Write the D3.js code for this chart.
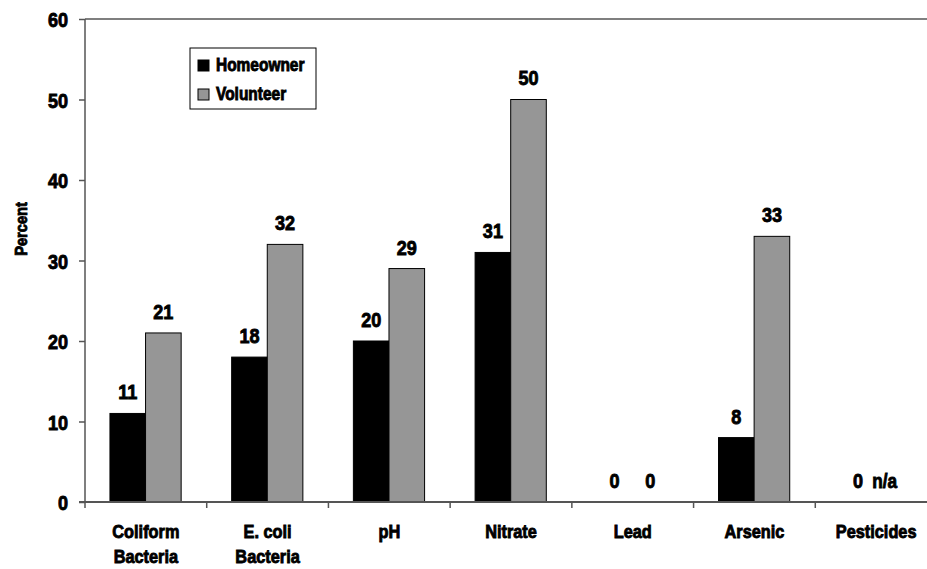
<!DOCTYPE html>
<html>
<head>
<meta charset="utf-8">
<script src="https://cdn.jsdelivr.net/npm/d3@7"></script>
<style>
  html, body { margin: 0; padding: 0; background: #fff; }
  svg text { font-family: "Liberation Sans", Arial, sans-serif; font-weight: bold; fill: #000; stroke: #000; stroke-width: 0.9px; }
</style>
</head>
<body>
<svg id="chart" width="927" height="569"></svg>
<script>
const categories = [["Coliform", "Bacteria"], ["E. coli", "Bacteria"], ["pH"], ["Nitrate"], ["Lead"], ["Arsenic"], ["Pesticides"]];
const seriesNames = ["Homeowner", "Volunteer"];
const homeowner = [11, 18, 20, 31, 0, 8, 0];
const volunteer = [21, 32, 29, 50, 0, 33, null];
const volunteerMissingLabel = "n/a";
const yTicks = [0, 10, 20, 30, 40, 50, 60];
const yLabel = "Percent";
const colors = ["#000000", "#969696"];

const svg = d3.select("#chart");
const margin = { left: 85, top: 19, bottom: 502 };
const plotRight = 937;
const SX = 0.86; // horizontal condensing of the bold font

function condense(sel) {
  sel.each(function () {
    const t = d3.select(this);
    const x = +(t.attr("x") || 0);
    t.attr("x", x / SX);
    const tr = t.attr("transform") || "";
    t.attr("transform", (tr + ` scale(${SX},1)`).trim());
    t.selectAll("tspan").each(function () {
      const ts = d3.select(this);
      if (ts.attr("x") !== null) ts.attr("x", +ts.attr("x") / SX);
    });
  });
}

const catKeys = categories.map((c, i) => i);
const x0 = d3.scaleBand().domain(catKeys).range([margin.left, plotRight]).padding(0);
const bw = x0.bandwidth();
const x1 = d3.scaleBand().domain(seriesNames).range([bw * 0.205, bw * 0.79]).padding(0);
const y = d3.scaleLinear().domain([0, 60]).range([margin.bottom, margin.top]);

// top border line
svg.append("line")
  .attr("x1", margin.left).attr("x2", 927)
  .attr("y1", y(60)).attr("y2", y(60))
  .attr("stroke", "#555").attr("stroke-width", 1.5);

// bars
const data = catKeys.map(i => ({ i, vals: [homeowner[i], volunteer[i]] }));
const groups = svg.append("g").selectAll("g").data(data).join("g")
  .attr("transform", d => `translate(${x0(d.i)},0)`);

groups.selectAll("rect")
  .data(d => d.vals.map((v, k) => ({ v, k })).filter(e => e.v !== null && e.v > 0))
  .join("rect")
  .attr("x", e => x1(seriesNames[e.k]))
  .attr("width", x1.bandwidth())
  .attr("y", e => y(e.v))
  .attr("height", e => y(0) - y(e.v))
  .attr("fill", e => colors[e.k])
  .attr("stroke", "#000").attr("stroke-width", 1);

// value labels
const vl = groups.selectAll("text.val")
  .data(d => d.vals.map((v, k) => ({ v, k })))
  .join("text").attr("class", "val")
  .attr("x", e => x1(seriesNames[e.k]) + x1.bandwidth() / 2 - (e.v === null ? 9 : 0))
  .attr("y", e => y(e.v === null ? 0 : e.v) - 14)
  .attr("text-anchor", "middle")
  .style("font-size", e => e.v === null ? "20px" : "21px")
  .text(e => e.v === null ? volunteerMissingLabel : e.v);
condense(vl);

// y axis
const yAxis = d3.axisLeft(y).tickValues(yTicks).tickSize(6).tickPadding(11);
const gy = svg.append("g").attr("transform", `translate(${margin.left},0)`).call(yAxis);
gy.select(".domain").remove();
gy.selectAll(".tick line").attr("stroke", "#555").attr("stroke-width", 1.5);
gy.selectAll(".tick text").style("font-size", "21px").attr("dy", "0.36em");
gy.attr("font-family", null).attr("font-size", null);
condense(gy.selectAll(".tick text"));
svg.append("line")
  .attr("x1", margin.left).attr("x2", margin.left)
  .attr("y1", y(60)).attr("y2", y(0) + 6)
  .attr("stroke", "#555").attr("stroke-width", 1.5);

// x axis
svg.append("line")
  .attr("x1", margin.left - 6).attr("x2", 927)
  .attr("y1", y(0)).attr("y2", y(0))
  .attr("stroke", "#555").attr("stroke-width", 2);
svg.append("g").selectAll("line").data(catKeys.slice(1))
  .join("line")
  .attr("x1", d => x0(d)).attr("x2", d => x0(d))
  .attr("y1", y(0)).attr("y2", y(0) + 6)
  .attr("stroke", "#555").attr("stroke-width", 1.5);

// category labels
const cl = svg.append("g").selectAll("text").data(data).join("text")
  .attr("text-anchor", "middle")
  .style("font-size", "19px")
  .attr("transform", d => `translate(${x0(d.i) + bw / 2},538)`);
cl.selectAll("tspan").data(d => categories[d.i]).join("tspan")
  .attr("x", 0).attr("y", (t, j) => j * 25).text(t => t);
condense(cl);

// y label
const yl = svg.append("text")
  .attr("transform", "translate(27,229) rotate(-90)")
  .attr("text-anchor", "middle")
  .style("font-size", "17px")
  .text(yLabel);
condense(yl);

// legend
const lg = svg.append("g").attr("transform", "translate(190,48)");
lg.append("rect").attr("width", 126).attr("height", 61)
  .attr("fill", "#fff").attr("stroke", "#000").attr("stroke-width", 1);
seriesNames.forEach((s, k) => {
  lg.append("rect").attr("x", 8).attr("y", 12 + k * 29).attr("width", 11).attr("height", 11)
    .attr("fill", colors[k]).attr("stroke", "#000").attr("stroke-width", 1);
  const t = lg.append("text").attr("x", 26).attr("y", 23 + k * 29).style("font-size", "18px").text(s);
  condense(t);
});
</script>
</body>
</html>
